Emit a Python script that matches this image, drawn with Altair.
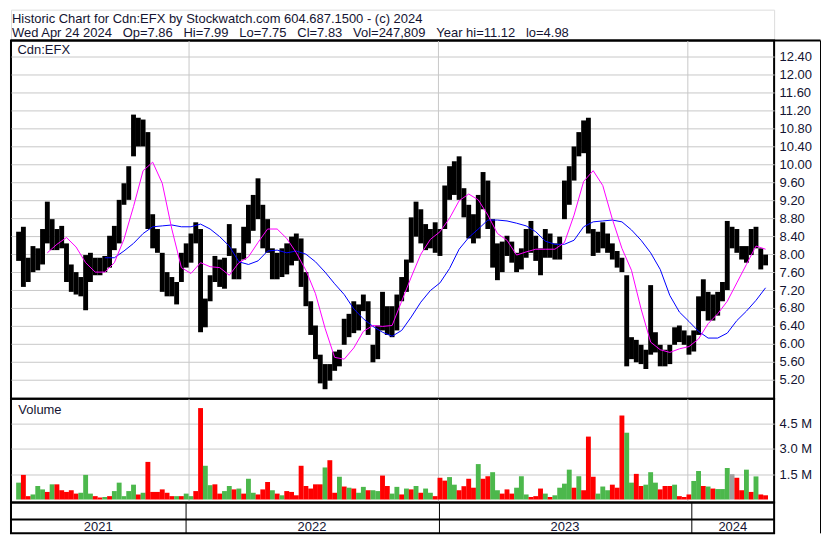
import altair as alt
import pandas as pd

# ---------------- data (weekly, week of 2021-04-28 onward) ----------------
week_high = [8.50, 8.61, 7.92, 8.18, 8.13, 8.56, 9.17, 8.78, 8.56, 8.63,
             8.24, 7.77, 7.60, 7.49, 7.98, 8.03, 7.92, 7.92, 7.96, 8.41,
             8.63, 9.21, 9.58, 9.96, 11.11, 11.04, 11.00, 10.72, 8.89, 8.56,
             8.03, 7.60, 7.49, 7.38, 8.03, 8.24, 8.46, 8.71, 8.56, 7.01,
             7.53, 7.96, 7.88, 7.92, 8.67, 8.13, 8.03, 8.61, 9.10, 9.32,
             9.69, 9.10, 8.78, 8.13, 8.03, 8.13, 8.24, 8.39, 8.46, 8.35,
             7.60, 6.95, 6.41, 5.76, 5.55, 5.55, 5.83, 5.87, 6.56, 6.67,
             6.95, 6.88, 7.10, 6.95, 5.98, 6.41, 7.16, 6.84, 6.84, 7.10,
             7.49, 7.88, 8.82, 9.17, 9.00, 8.67, 8.56, 8.71, 8.56, 9.53,
             9.96, 10.07, 10.18, 9.47, 9.10, 8.89, 9.32, 9.83, 9.64, 8.78,
             8.24, 8.28, 8.41, 8.28, 8.03, 8.13, 8.56, 8.74, 8.41, 8.13,
             8.56, 8.46, 8.24, 8.39, 9.64, 9.96, 10.40, 10.72, 10.98, 11.04,
             8.56, 8.50, 8.71, 8.46, 8.24, 8.07, 7.92, 7.53, 6.15, 6.09,
             5.98, 5.87, 7.31, 6.26, 5.98, 5.87, 5.98, 6.37, 6.41, 6.30,
             6.19, 6.30, 7.06, 7.44, 7.16, 7.10, 7.16, 7.38, 8.74, 8.61,
             8.56, 8.18, 8.18, 8.56, 8.61, 8.13, 7.99]

week_low = [7.85, 7.27, 7.38, 7.60, 7.64, 7.77, 8.24, 8.09, 8.09, 8.13,
            7.38, 7.16, 7.10, 7.06, 6.75, 7.38, 7.53, 7.53, 7.60, 7.70,
            8.09, 8.24, 9.10, 9.21, 10.18, 10.40, 10.40, 8.56, 8.13, 8.03,
            7.16, 7.06, 7.06, 6.88, 7.38, 7.70, 7.81, 8.24, 6.26, 6.37,
            6.95, 7.38, 7.27, 7.23, 7.96, 7.44, 7.44, 7.88, 8.24, 8.52,
            8.78, 8.13, 8.03, 7.44, 7.44, 7.49, 7.55, 7.75, 7.85, 7.27,
            6.84, 6.20, 5.66, 5.12, 4.99, 5.18, 5.40, 5.50, 5.98, 6.15,
            6.24, 6.30, 6.73, 6.20, 5.59, 5.66, 6.30, 6.20, 6.15, 6.30,
            6.95, 7.16, 7.81, 8.39, 8.24, 8.09, 8.13, 8.03, 7.96, 8.56,
            9.21, 9.32, 9.21, 8.82, 8.35, 8.24, 8.35, 9.00, 8.56, 7.70,
            7.42, 7.60, 7.96, 7.81, 7.60, 7.66, 7.92, 8.03, 7.85, 7.53,
            7.92, 7.92, 7.88, 7.88, 8.78, 9.10, 9.64, 10.18, 10.25, 8.46,
            7.96, 8.03, 8.13, 8.03, 7.88, 7.70, 7.60, 5.50, 5.66, 5.59,
            5.55, 5.44, 5.76, 5.81, 5.50, 5.50, 5.55, 5.98, 6.04, 5.98,
            5.76, 5.83, 6.20, 6.73, 6.52, 6.52, 6.63, 6.95, 7.20, 8.13,
            8.03, 7.88, 7.81, 7.98, 8.13, 7.66, 7.75]

# volume in millions of shares, and the colour code of the bar (g = up, r = down, n = unchanged)
week_volume_m = [1.00, 1.46, 0.20, 0.30, 0.80, 0.60, 0.45, 0.90, 0.90, 0.55,
                 0.45, 0.55, 0.35, 0.40, 1.46, 0.35, 0.20, 0.12, 0.15, 0.20,
                 0.50, 1.00, 0.20, 0.50, 0.88, 0.30, 0.40, 2.23, 0.45, 0.45,
                 0.60, 0.40, 0.20, 0.20, 0.20, 0.35, 0.20, 0.50, 5.42, 2.00,
                 0.85, 0.90, 0.35, 0.50, 0.80, 0.60, 0.65, 0.35, 1.23, 0.40,
                 0.30, 0.60, 1.04, 0.55, 0.35, 0.25, 0.50, 0.45, 0.25, 2.00,
                 0.80, 0.65, 0.90, 0.90, 1.90, 2.33, 0.40, 1.35, 0.77, 0.70,
                 0.65, 0.40, 0.75, 0.55, 0.55, 0.50, 1.42, 0.80, 0.35, 0.75,
                 0.30, 0.65, 0.60, 0.80, 0.40, 0.65, 0.40, 0.20, 1.29, 1.12,
                 1.33, 0.88, 0.55, 0.79, 1.23, 0.70, 2.10, 1.23, 1.38, 1.62,
                 0.55, 0.35, 0.60, 0.35, 0.70, 1.38, 0.30, 0.15, 0.20, 0.65,
                 0.35, 0.15, 0.25, 0.70, 0.94, 1.77, 0.70, 1.38, 0.55, 3.73,
                 1.35, 0.35, 0.77, 0.55, 0.88, 0.70, 4.98, 3.96, 1.00, 1.52,
                 0.80, 0.88, 1.62, 1.00, 0.60, 0.80, 0.80, 0.88, 0.20, 0.15,
                 0.30, 1.10, 1.69, 0.80, 0.77, 0.65, 0.62, 0.62, 1.87, 1.50,
                 1.29, 0.55, 1.77, 0.45, 1.37, 0.30, 0.25]

week_direction = ["g", "r", "r", "g", "g", "g", "r", "g", "r", "r",
                  "r", "r", "r", "g", "g", "g", "r", "r", "g", "r",
                  "g", "g", "g", "g", "g", "r", "g", "r", "r", "r",
                  "r", "r", "r", "g", "r", "g", "g", "r", "r", "g",
                  "g", "r", "r", "g", "g", "r", "g", "r", "g", "g",
                  "r", "r", "r", "g", "r", "g", "r", "r", "r", "r",
                  "r", "r", "r", "r", "g", "r", "r", "g", "r", "g",
                  "r", "g", "g", "r", "g", "g", "r", "r", "g", "g",
                  "r", "g", "r", "g", "r", "g", "g", "r", "r", "r",
                  "g", "g", "r", "r", "r", "r", "g", "r", "r", "g",
                  "g", "r", "r", "r", "g", "g", "g", "r", "r", "r",
                  "g", "r", "g", "g", "g", "g", "r", "g", "r", "r",
                  "r", "g", "g", "g", "r", "r", "r", "g", "g", "r",
                  "r", "g", "g", "g", "r", "r", "r", "g", "r", "r",
                  "r", "g", "g", "r", "g", "r", "g", "g", "g", "n",
                  "r", "r", "g", "r", "g", "r", "r"]

# moving averages, read every second week (fast from week 6, slow from week 18)
ma_fast = [8.03, 8.22, 8.37, 8.16, 7.81, 7.60, 7.60, 7.81, 8.33, 9.06,
           9.86, 10.05, 9.58, 8.56, 7.70, 7.57, 7.81, 7.72, 7.70, 7.53,
           7.81, 7.94, 8.26, 8.56, 8.56, 8.35, 8.03, 7.64, 7.12, 6.35,
           5.70, 5.66, 5.91, 6.28, 6.41, 6.39, 6.41, 6.95, 7.49, 8.00,
           8.33, 8.50, 8.80, 9.19, 9.34, 9.21, 8.87, 8.46, 8.31, 7.98,
           8.05, 8.11, 8.11, 8.11, 8.26, 8.87, 9.62, 9.86, 9.53, 8.78,
           8.13, 7.64, 6.78, 6.04, 5.87, 5.81, 5.89, 5.94, 6.11, 6.45,
           6.67, 6.95, 7.36, 7.77, 8.18, 8.11]

ma_slow = [7.92, 7.92, 8.07, 8.24, 8.46, 8.61, 8.63, 8.65, 8.61, 8.61,
           8.67, 8.56, 8.39, 8.18, 7.83, 7.77, 7.85, 8.07, 8.09, 8.03,
           8.07, 8.00, 7.83, 7.60, 7.34, 7.10, 6.78, 6.56, 6.39, 6.26,
           6.17, 6.30, 6.60, 6.93, 7.19, 7.36, 7.68, 8.11, 8.37, 8.56,
           8.76, 8.76, 8.74, 8.69, 8.63, 8.50, 8.29, 8.22, 8.22, 8.31,
           8.61, 8.72, 8.74, 8.76, 8.72, 8.54, 8.31, 8.03, 7.66, 7.08,
           6.71, 6.50, 6.28, 6.13, 6.13, 6.24, 6.52, 6.73, 6.97, 7.25]

price_ticks = [5.2, 5.6, 6.0, 6.4, 6.8, 7.2, 7.6, 8.0, 8.4, 8.8,
               9.2, 9.6, 10.0, 10.4, 10.8, 11.2, 11.6, 12.0, 12.4]
volume_ticks = [1.5, 3.0, 4.5]
year_labels = ["2021", "2022", "2023", "2024"]

title_line1 = "Historic Chart for Cdn:EFX by Stockwatch.com 604.687.1500 - (c) 2024"
title_line2_parts = ["Wed Apr 24 2024", "Op=7.86", "Hi=7.99", "Lo=7.75", "Cl=7.83",
                     "Vol=247,809", "Year hi=11.12", "lo=4.98"]
symbol_label = "Cdn:EFX"
volume_label = "Volume"

# ---------------- tables ----------------
weeks = pd.date_range("2021-04-28", periods=len(week_high), freq="7D")
price_df = pd.DataFrame({"date": weeks, "high": week_high, "low": week_low})
vol_df = pd.DataFrame({"date": weeks, "vol": week_volume_m, "dir": week_direction})
fast_df = pd.DataFrame({"date": weeks[6::2][:len(ma_fast)], "ma": ma_fast})
slow_df = pd.DataFrame({"date": weeks[18::2][:len(ma_slow)], "ma": ma_slow})

x_start = pd.Timestamp("2021-04-24 04:00")
x_end = pd.Timestamp("2024-04-29 05:00")
bounds = [x_start] + [pd.Timestamp(f"{y}-01-01") for y in (2022, 2023, 2024)] + [x_end]
year_df = pd.DataFrame({
    "date": [bounds[i] + (bounds[i + 1] - bounds[i]) / 2 for i in range(4)],
    "label": year_labels,
})

# ---------------- style ----------------
FONT = "Liberation Sans"
TXT = "#141432"
GRID = "#c8c8c8"
W = 765
H_HEAD, H_PRICE, H_VOL, H_FOOT = 31, 359, 104, 31

x_scale = alt.Scale(domain=[alt.DateTime(year=2021, month=4, date=24, hours=4),
                            alt.DateTime(year=2024, month=4, date=29, hours=5)])
year_starts = [alt.DateTime(year=y, month=1, date=1) for y in (2022, 2023, 2024)]


def x_axis(color):
    return alt.Axis(values=year_starts, labels=False, ticks=False, domain=False,
                    grid=True, gridColor=color, gridWidth=1, title=None)


def X(color=GRID):
    return alt.X("date:T", scale=x_scale, axis=x_axis(color))


panel_view = alt.ViewBackground(stroke="black", strokeWidth=2)
SEP = "\u00a0\u00a0\u00a0"

# ---------------- header ----------------
one = pd.DataFrame({"a": [0]})
head1 = alt.Chart(pd.DataFrame({"t": [title_line1]})).mark_text(
    align="left", baseline="alphabetic", font=FONT, fontSize=13, color=TXT
).encode(x=alt.value(1), y=alt.value(12.9), text="t:N")
head2 = alt.Chart(pd.DataFrame({"t": [SEP.join(title_line2_parts)]})).mark_text(
    align="left", baseline="alphabetic", font=FONT, fontSize=13, color=TXT
).encode(x=alt.value(1), y=alt.value(27.5), text="t:N")
head_rule = alt.Chart(one).mark_rule(color="black", strokeWidth=2).encode(
    x=alt.value(0), x2=alt.value(811.5), y=alt.value(31))
header = alt.layer(head1, head2, head_rule).properties(width=W, height=H_HEAD)

# ---------------- price panel ----------------
y_price_scale = alt.Scale(domain=[4.779, 12.760], zero=False, nice=False)
price_axis = alt.Axis(orient="right", values=price_ticks, format=".2f", grid=True,
                      gridColor=GRID, gridWidth=1, ticks=False, domain=False,
                      labelPadding=5, labelFont=FONT, labelFontSize=13,
                      labelColor=TXT, title=None)

bars = alt.Chart(price_df).mark_bar(size=4.9, color="black").encode(
    x=X(), y=alt.Y("low:Q", scale=y_price_scale, axis=price_axis), y2="high:Q")
fast = alt.Chart(fast_df).mark_line(color="#ff00ff", strokeWidth=1).encode(
    x=X(), y=alt.Y("ma:Q", scale=y_price_scale, axis=price_axis))
slow = alt.Chart(slow_df).mark_line(color="#0000ff", strokeWidth=1).encode(
    x=X(), y=alt.Y("ma:Q", scale=y_price_scale, axis=price_axis))
sym = alt.Chart(pd.DataFrame({"t": [symbol_label]})).mark_text(
    align="left", baseline="alphabetic", font=FONT, fontSize=13, color=TXT
).encode(x=alt.value(6.5), y=alt.value(13.6), text="t:N")
price = alt.layer(bars, slow, fast, sym).properties(
    width=W, height=H_PRICE, view=panel_view)

# ---------------- volume panel ----------------
y_vol_scale = alt.Scale(domain=[-0.173, 5.977], zero=False, nice=False)
vol_axis = alt.Axis(orient="right", values=volume_ticks,
                    labelExpr="format(datum.value, '.1f') + ' M'", grid=True,
                    gridColor=GRID, gridWidth=1, ticks=False, domain=False,
                    labelPadding=5, labelFont=FONT, labelFontSize=13,
                    labelColor=TXT, title=None)
vbars = alt.Chart(vol_df).mark_bar(size=4.9).encode(
    x=X(),
    y=alt.Y("vol:Q", scale=y_vol_scale, axis=vol_axis),
    y2=alt.value(H_VOL),
    color=alt.Color("dir:N", scale=alt.Scale(domain=["g", "r", "n"],
                                             range=["#4cb84c", "#ff0000", "#a0a0a0"]),
                    legend=None),
)
vlabel = alt.Chart(pd.DataFrame({"t": [volume_label]})).mark_text(
    align="left", baseline="alphabetic", font=FONT, fontSize=13, color=TXT
).encode(x=alt.value(7.4), y=alt.value(15.2), text="t:N")
volume = alt.layer(vbars, vlabel).properties(width=W, height=H_VOL, view=panel_view)

# ---------------- footer with years ----------------
ylab = alt.Chart(year_df).mark_text(
    font=FONT, fontSize=13, color=TXT, baseline="middle", align="center"
).encode(x=X("black"), y=alt.value(24.3), text="label:N")
mid_rule = alt.Chart(one).mark_rule(color="black", strokeWidth=2).encode(
    x=alt.value(0), x2=alt.value(W), y=alt.value(17))
edge_rule = alt.Chart(one).mark_rule(color="black", strokeWidth=1).encode(
    x=alt.value(811.5), y=alt.value(-(H_PRICE + H_VOL)), y2=alt.value(H_FOOT))
footer = alt.layer(ylab, mid_rule, edge_rule).properties(
    width=W, height=H_FOOT, view=panel_view)

chart = alt.vconcat(header, price, volume, footer, spacing=0, bounds="flush").properties(
    padding={"left": 1, "top": 0, "right": 0, "bottom": 0}
).configure_view(strokeWidth=0).configure(background="white")

chart.save("out.html", embed_options={"renderer": "svg", "actions": False})
